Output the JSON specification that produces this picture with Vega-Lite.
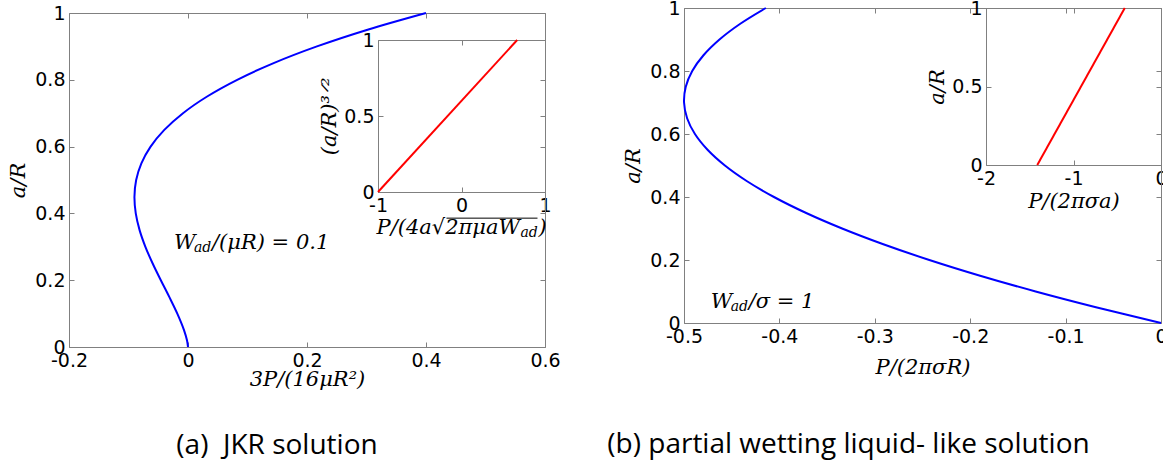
{
  "$schema": "https://vega.github.io/schema/vega-lite/v6.json",
  "padding": {"left": 7, "top": -1, "right": 0, "bottom": 0},
  "background": "white",
  "spacing": 46,
  "datasets": {
    "jkr": [
      {"a": 0, "p": 0}, {"a": 0.02, "p": -0.00169}, {"a": 0.05, "p": -0.00658}, {"a": 0.1, "p": -0.01797},
      {"a": 0.15, "p": -0.03148}, {"a": 0.2, "p": -0.04567}, {"a": 0.25, "p": -0.05938}, {"a": 0.3, "p": -0.07159},
      {"a": 0.35, "p": -0.08136}, {"a": 0.4, "p": -0.08779}, {"a": 0.45, "p": -0.09}, {"a": 0.5, "p": -0.08713},
      {"a": 0.55, "p": -0.07836}, {"a": 0.6, "p": -0.06286}, {"a": 0.65, "p": -0.0398}, {"a": 0.7, "p": -0.0084},
      {"a": 0.75, "p": 0.03216}, {"a": 0.8, "p": 0.08268}, {"a": 0.85, "p": 0.14393}, {"a": 0.9, "p": 0.21671},
      {"a": 0.95, "p": 0.30181}, {"a": 1, "p": 0.4}
    ],
    "jkrScaled": [{"u": -1, "v": 0}, {"u": 0.667, "v": 1}],
    "liquid": [
      {"a": 0, "p": 0}, {"a": 0.05, "p": -0.06821}, {"a": 0.1, "p": -0.13142}, {"a": 0.15, "p": -0.18963},
      {"a": 0.2, "p": -0.24284}, {"a": 0.25, "p": -0.29105}, {"a": 0.3, "p": -0.33426}, {"a": 0.35, "p": -0.37248},
      {"a": 0.4, "p": -0.40569}, {"a": 0.45, "p": -0.4339}, {"a": 0.5, "p": -0.45711}, {"a": 0.55, "p": -0.47532},
      {"a": 0.6, "p": -0.48853}, {"a": 0.65, "p": -0.49674}, {"a": 0.7, "p": -0.49995}, {"a": 0.75, "p": -0.49816},
      {"a": 0.8, "p": -0.49137}, {"a": 0.85, "p": -0.47958}, {"a": 0.9, "p": -0.46279}, {"a": 0.95, "p": -0.441},
      {"a": 1, "p": -0.41421}
    ],
    "liquidScaled": [{"u": -1.414, "v": 0}, {"u": -0.414, "v": 1}],
    "noteA": [{"p": -0.0235, "a": 0.312}],
    "noteB": [{"p": -0.472, "a": 0.0666}],
    "insetTitleA": [{"u": 0, "v": 0}]
  },
  "hconcat": [
    {
      "width": 476,
      "height": 339,
      "title": {"text": "(a) \u00a0JKR solution", "orient": "bottom", "anchor": "middle", "dx": -30, "offset": 43, "font": "Open Sans", "fontSize": 28, "fontWeight": "normal", "color": "#000"},
      "resolve": {"scale": {"x": "independent", "y": "independent"}, "axis": {"x": "independent", "y": "independent"}},
      "layer": [
        {
          "data": {"name": "jkr"},
          "mark": {"type": "line", "color": "#0000ff", "strokeWidth": 2, "interpolate": "catmull-rom"},
          "encoding": {
            "x": {"field": "p", "type": "quantitative", "scale": {"domain": [-0.2, 0.6], "nice": false, "zero": false},
                  "axis": {"values": [-0.2, 0, 0.2, 0.4, 0.6], "title": "3P/(16μR²)", "titlePadding": -2}},
            "y": {"field": "a", "type": "quantitative", "scale": {"domain": [0, 1], "range": [339, 5], "nice": false, "zero": false},
                  "axis": {"values": [0, 0.2, 0.4, 0.6, 0.8, 1], "title": "a/R", "titlePadding": 6}},
            "order": {"field": "a"}
          }
        },
        {
          "data": {"name": "jkr"},
          "mark": {"type": "line", "strokeOpacity": 0},
          "encoding": {
            "x": {"field": "p", "type": "quantitative", "scale": {"domain": [-0.2, 0.6], "nice": false, "zero": false},
                  "axis": {"orient": "top", "offset": -5, "values": [-0.2, 0, 0.2, 0.4, 0.6], "labels": false, "title": null}},
            "y": {"field": "a", "type": "quantitative", "scale": {"domain": [0, 1], "range": [339, 5], "nice": false, "zero": false},
                  "axis": {"orient": "right", "values": [0, 0.2, 0.4, 0.6, 0.8, 1], "labels": false, "title": null}},
            "order": {"field": "a"}
          }
        },
        {
          "data": {"name": "jkrScaled"},
          "mark": {"type": "line", "color": "#ff0000", "strokeWidth": 2},
          "encoding": {
            "x": {"field": "u", "type": "quantitative", "scale": {"domain": [-1, 1], "range": [309, 476], "nice": false, "zero": false},
                  "axis": {"orient": "bottom", "offset": -155, "values": [-1, 0, 1], "title": null}},
            "y": {"field": "v", "type": "quantitative", "scale": {"domain": [0, 1], "range": [184, 32], "nice": false, "zero": false},
                  "axis": {"orient": "left", "offset": -309, "values": [0, 0.5, 1], "title": "(a/R)³ᐟ²", "titlePadding": 4}}
          }
        },
        {
          "data": {"name": "jkrScaled"},
          "mark": {"type": "line", "strokeOpacity": 0},
          "encoding": {
            "x": {"field": "u", "type": "quantitative", "scale": {"domain": [-1, 1], "range": [309, 476], "nice": false, "zero": false},
                  "axis": {"orient": "top", "offset": -32, "values": [-1, 0, 1], "labels": false, "title": null}},
            "y": {"field": "v", "type": "quantitative", "scale": {"domain": [0, 1], "range": [184, 32], "nice": false, "zero": false},
                  "axis": {"orient": "right", "offset": 0, "values": [0, 0.5, 1], "labels": false, "title": null}}
          }
        },
        {
          "data": {"name": "insetTitleA"},
          "mark": {"type": "text", "text": "P/(4a√2πμaW", "align": "left", "baseline": "middle", "dx": -85, "dy": 36, "font": "DejaVu Serif", "fontStyle": "italic", "fontSize": 21, "color": "#000"},
          "encoding": {
            "x": {"field": "u", "type": "quantitative", "scale": {"domain": [-1, 1], "range": [309, 476], "nice": false, "zero": false}, "axis": null},
            "y": {"field": "v", "type": "quantitative", "scale": {"domain": [0, 1], "range": [184, 32], "nice": false, "zero": false}, "axis": null}
          }
        },
        {
          "data": {"name": "insetTitleA"},
          "mark": {"type": "text", "text": "ad", "align": "left", "baseline": "middle", "dx": 59, "dy": 41, "font": "DejaVu Serif", "fontStyle": "italic", "fontSize": 14, "color": "#000"},
          "encoding": {
            "x": {"field": "u", "type": "quantitative", "scale": {"domain": [-1, 1], "range": [309, 476], "nice": false, "zero": false}, "axis": null},
            "y": {"field": "v", "type": "quantitative", "scale": {"domain": [0, 1], "range": [184, 32], "nice": false, "zero": false}, "axis": null}
          }
        },
        {
          "data": {"name": "insetTitleA"},
          "mark": {"type": "text", "text": ")", "align": "left", "baseline": "middle", "dx": 77, "dy": 36, "font": "DejaVu Serif", "fontStyle": "italic", "fontSize": 21, "color": "#000"},
          "encoding": {
            "x": {"field": "u", "type": "quantitative", "scale": {"domain": [-1, 1], "range": [309, 476], "nice": false, "zero": false}, "axis": null},
            "y": {"field": "v", "type": "quantitative", "scale": {"domain": [0, 1], "range": [184, 32], "nice": false, "zero": false}, "axis": null}
          }
        },
        {
          "description": "vinculum of the square root in the inset x title",
          "data": {"name": "insetTitleA"},
          "mark": {"type": "rule", "color": "#000", "strokeWidth": 1},
          "encoding": {
            "x": {"datum": -0.18, "type": "quantitative", "scale": {"domain": [-1, 1], "range": [309, 476], "nice": false, "zero": false}, "axis": null},
            "x2": {"datum": 0.91},
            "y": {"datum": -0.172, "type": "quantitative", "scale": {"domain": [0, 1], "range": [184, 32], "nice": false, "zero": false}, "axis": null}
          }
        },
        {
          "data": {"name": "noteA"},
          "mark": {"type": "text", "text": "W", "align": "left", "baseline": "middle", "font": "DejaVu Serif", "fontStyle": "italic", "fontSize": 21, "color": "#000"},
          "encoding": {
            "x": {"field": "p", "type": "quantitative", "scale": {"domain": [-0.2, 0.6], "nice": false, "zero": false}, "axis": null},
            "y": {"field": "a", "type": "quantitative", "scale": {"domain": [0, 1], "range": [339, 5], "nice": false, "zero": false}, "axis": null}
          }
        },
        {
          "data": {"name": "noteA"},
          "mark": {"type": "text", "text": "ad", "align": "left", "baseline": "middle", "dx": 20, "dy": 5, "font": "DejaVu Serif", "fontStyle": "italic", "fontSize": 14, "color": "#000"},
          "encoding": {
            "x": {"field": "p", "type": "quantitative", "scale": {"domain": [-0.2, 0.6], "nice": false, "zero": false}, "axis": null},
            "y": {"field": "a", "type": "quantitative", "scale": {"domain": [0, 1], "range": [339, 5], "nice": false, "zero": false}, "axis": null}
          }
        },
        {
          "data": {"name": "noteA"},
          "mark": {"type": "text", "text": "/(μR) = 0.1", "align": "left", "baseline": "middle", "dx": 38, "font": "DejaVu Serif", "fontStyle": "italic", "fontSize": 21, "color": "#000"},
          "encoding": {
            "x": {"field": "p", "type": "quantitative", "scale": {"domain": [-0.2, 0.6], "nice": false, "zero": false}, "axis": null},
            "y": {"field": "a", "type": "quantitative", "scale": {"domain": [0, 1], "range": [339, 5], "nice": false, "zero": false}, "axis": null}
          }
        }
      ]
    },
    {
      "width": 477,
      "height": 315,
      "title": {"text": "(b) partial wetting liquid- like solution", "orient": "bottom", "anchor": "middle", "dx": -74, "offset": 54, "font": "Open Sans", "fontSize": 28, "fontWeight": "normal", "color": "#000"},
      "resolve": {"scale": {"x": "independent", "y": "independent"}, "axis": {"x": "independent", "y": "independent"}},
      "layer": [
        {
          "data": {"name": "liquid"},
          "mark": {"type": "line", "color": "#0000ff", "strokeWidth": 2, "interpolate": "catmull-rom"},
          "encoding": {
            "x": {"field": "p", "type": "quantitative", "scale": {"domain": [-0.5, 0], "nice": false, "zero": false},
                  "axis": {"values": [-0.5, -0.4, -0.3, -0.2, -0.1, 0], "title": "P/(2πσR)", "titlePadding": 10}},
            "y": {"field": "a", "type": "quantitative", "scale": {"domain": [0, 1], "nice": false, "zero": false},
                  "axis": {"values": [0, 0.2, 0.4, 0.6, 0.8, 1], "title": "a/R", "titlePadding": 6}},
            "order": {"field": "a"}
          }
        },
        {
          "data": {"name": "liquid"},
          "mark": {"type": "line", "strokeOpacity": 0},
          "encoding": {
            "x": {"field": "p", "type": "quantitative", "scale": {"domain": [-0.5, 0], "nice": false, "zero": false},
                  "axis": {"orient": "top", "values": [-0.5, -0.4, -0.3, -0.2, -0.1, 0], "labels": false, "title": null}},
            "y": {"field": "a", "type": "quantitative", "scale": {"domain": [0, 1], "nice": false, "zero": false},
                  "axis": {"orient": "right", "values": [0, 0.2, 0.4, 0.6, 0.8, 1], "labels": false, "title": null}},
            "order": {"field": "a"}
          }
        },
        {
          "data": {"name": "liquidScaled"},
          "mark": {"type": "line", "color": "#ff0000", "strokeWidth": 2},
          "encoding": {
            "x": {"field": "u", "type": "quantitative", "scale": {"domain": [-2, 0], "range": [302, 477], "nice": false, "zero": false},
                  "axis": {"orient": "bottom", "offset": -158, "values": [-2, -1, 0], "title": "P/(2πσa)", "titlePadding": 2}},
            "y": {"field": "v", "type": "quantitative", "scale": {"domain": [0, 1], "range": [157, 0], "nice": false, "zero": false},
                  "axis": {"orient": "left", "offset": -302, "values": [0, 0.5, 1], "title": "a/R", "titlePadding": 4}}
          }
        },
        {
          "data": {"name": "liquidScaled"},
          "mark": {"type": "line", "strokeOpacity": 0},
          "encoding": {
            "x": {"field": "u", "type": "quantitative", "scale": {"domain": [-2, 0], "range": [302, 477], "nice": false, "zero": false},
                  "axis": {"orient": "top", "offset": 0, "values": [-2, -1, 0], "labels": false, "title": null}},
            "y": {"field": "v", "type": "quantitative", "scale": {"domain": [0, 1], "range": [157, 0], "nice": false, "zero": false},
                  "axis": {"orient": "right", "offset": 0, "values": [0, 0.5, 1], "labels": false, "title": null}}
          }
        },
        {
          "data": {"name": "noteB"},
          "mark": {"type": "text", "text": "W", "align": "left", "baseline": "middle", "font": "DejaVu Serif", "fontStyle": "italic", "fontSize": 21, "color": "#000"},
          "encoding": {
            "x": {"field": "p", "type": "quantitative", "scale": {"domain": [-0.5, 0], "nice": false, "zero": false}, "axis": null},
            "y": {"field": "a", "type": "quantitative", "scale": {"domain": [0, 1], "nice": false, "zero": false}, "axis": null}
          }
        },
        {
          "data": {"name": "noteB"},
          "mark": {"type": "text", "text": "ad", "align": "left", "baseline": "middle", "dx": 20, "dy": 5, "font": "DejaVu Serif", "fontStyle": "italic", "fontSize": 14, "color": "#000"},
          "encoding": {
            "x": {"field": "p", "type": "quantitative", "scale": {"domain": [-0.5, 0], "nice": false, "zero": false}, "axis": null},
            "y": {"field": "a", "type": "quantitative", "scale": {"domain": [0, 1], "nice": false, "zero": false}, "axis": null}
          }
        },
        {
          "data": {"name": "noteB"},
          "mark": {"type": "text", "text": "/σ = 1", "align": "left", "baseline": "middle", "dx": 38, "font": "DejaVu Serif", "fontStyle": "italic", "fontSize": 21, "color": "#000"},
          "encoding": {
            "x": {"field": "p", "type": "quantitative", "scale": {"domain": [-0.5, 0], "nice": false, "zero": false}, "axis": null},
            "y": {"field": "a", "type": "quantitative", "scale": {"domain": [0, 1], "nice": false, "zero": false}, "axis": null}
          }
        }
      ]
    }
  ],
  "config": {
    "view": {"stroke": null},
    "axis": {
      "grid": false,
      "domainColor": "#808080",
      "domainWidth": 1,
      "tickColor": "#808080",
      "tickSize": -5,
      "labelFont": "DejaVu Sans",
      "labelFontSize": 19,
      "labelColor": "#000",
      "labelPadding": 9,
      "labelFlush": false,
      "labelOverlap": false,
      "labelExpr": "datum.value + ''",
      "titleFont": "DejaVu Serif",
      "titleFontStyle": "italic",
      "titleFontWeight": "normal",
      "titleFontSize": 21,
      "titleColor": "#000"
    }
  }
}
